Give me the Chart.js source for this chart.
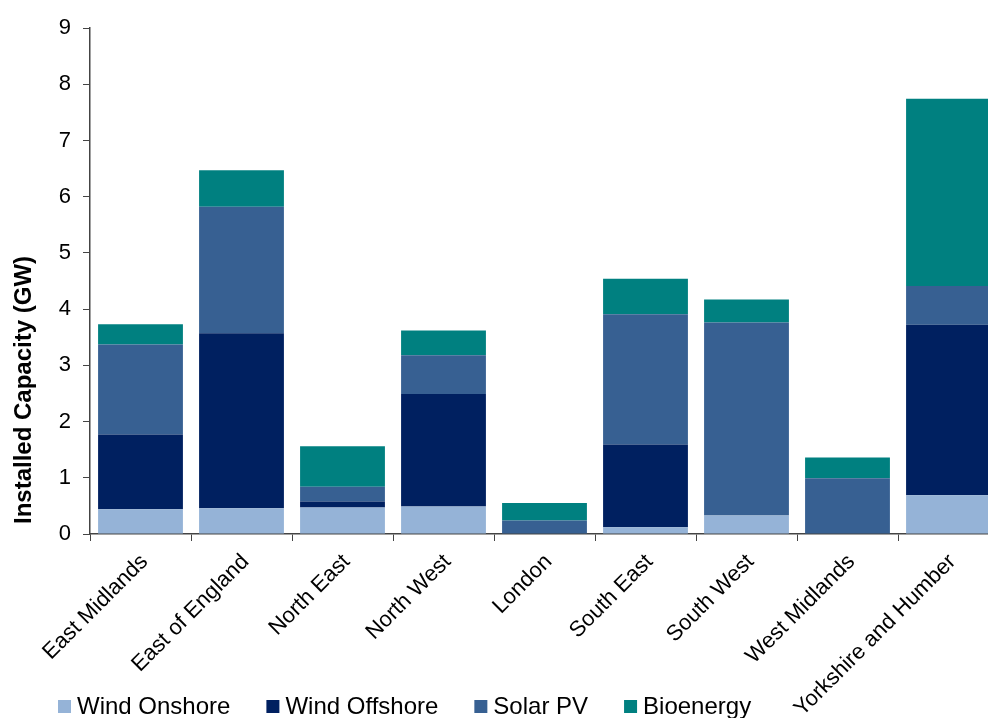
<!DOCTYPE html>
<html>
<head>
<meta charset="utf-8">
<script src="https://cdn.jsdelivr.net/npm/chart.js@4.4.1/dist/chart.umd.min.js"></script>
<style>
  html, body { margin: 0; padding: 0; background: #fff; overflow: hidden; }
  #wrap { width: 1010px; height: 718px; position: relative; }
</style>
</head>
<body>
<div id="wrap"><canvas id="capChart"></canvas></div>
<script>
const regions = ["East Midlands", "East of England", "North East", "North West", "London",
  "South East", "South West", "West Midlands", "Yorkshire and Humber"];

// GW per region
const windOnshore  = [0.44, 0.46, 0.47, 0.49, 0.01, 0.12, 0.33, 0.00, 0.69];
const windOffshore = [1.33, 3.11, 0.11, 2.00, 0.00, 1.47, 0.00, 0.00, 3.03];
const solarPV      = [1.60, 2.25, 0.26, 0.69, 0.23, 2.32, 3.43, 0.99, 0.69];
const bioenergy    = [0.36, 0.65, 0.72, 0.44, 0.31, 0.63, 0.41, 0.37, 3.33];

const yTicks = [0, 1, 2, 3, 4, 5, 6, 7, 8, 9];

const FONT = "'Liberation Sans', Arial, sans-serif";

// y title and legend are drawn by hand so they can sit where the original has them
const extras = {
  id: "extras",
  afterDraw(chart) {
    const ctx = chart.ctx;
    ctx.save();
    // axis title
    ctx.translate(24, 390);
    ctx.rotate(-Math.PI / 2);
    ctx.font = "bold 24px " + FONT;
    ctx.fillStyle = "#000";
    ctx.textAlign = "center";
    ctx.textBaseline = "middle";
    ctx.fillText("Installed Capacity (GW)", 0, 0);
    ctx.restore();

    // legend
    ctx.save();
    ctx.font = "24px " + FONT;
    ctx.textBaseline = "middle";
    ctx.textAlign = "left";
    let x = 58;
    const y = 706;
    chart.data.datasets.forEach((ds) => {
      ctx.fillStyle = ds.backgroundColor;
      ctx.fillRect(x, y - 6, 13, 13);
      ctx.fillStyle = "#000";
      ctx.fillText(ds.label, x + 19, y + 1);
      x += 19 + ctx.measureText(ds.label).width + 36;
    });
    ctx.restore();
  },
};

const ctx = document.getElementById("capChart").getContext("2d");

new Chart(ctx, {
  type: "bar",
  data: {
    labels: regions,
    datasets: [
      { label: "Wind Onshore", data: windOnshore, backgroundColor: "#95B3D7" },
      { label: "Wind Offshore", data: windOffshore, backgroundColor: "#002060" },
      { label: "Solar PV", data: solarPV, backgroundColor: "#376092" },
      { label: "Bioenergy", data: bioenergy, backgroundColor: "#008080" },
    ],
  },
  options: {
    responsive: true,
    maintainAspectRatio: false,
    animation: false,
    layout: { padding: { top: 28, right: 11, left: 0, bottom: 0 } },
    datasets: {
      bar: { barPercentage: 0.84, categoryPercentage: 1.0, borderWidth: 0 },
    },
    plugins: {
      legend: { display: false },
      tooltip: { enabled: false },
    },
    scales: {
      x: {
        stacked: true,
        afterFit(scale) { scale.height = 184; },
        border: { color: "#444", width: 1.5 },
        grid: { drawOnChartArea: false, drawTicks: true, tickLength: 7, color: "#444", offset: true },
        ticks: {
          color: "#000",
          font: { family: FONT, size: 22 },
          maxRotation: 45,
          minRotation: 45,
          autoSkip: false,
          padding: 8,
          labelOffset: 4,
        },
      },
      y: {
        stacked: true,
        min: 0,
        max: 9,
        afterFit(scale) { scale.width = 90; },
        afterBuildTicks(scale) { scale.ticks = yTicks.map((v) => ({ value: v })); },
        border: { color: "#444", width: 1.5 },
        grid: { drawOnChartArea: false, drawTicks: true, tickLength: 7, color: "#444" },
        ticks: {
          color: "#000",
          font: { family: FONT, size: 22 },
          padding: 12,
        },
      },
    },
  },
  plugins: [extras],
});
</script>
</body>
</html>
